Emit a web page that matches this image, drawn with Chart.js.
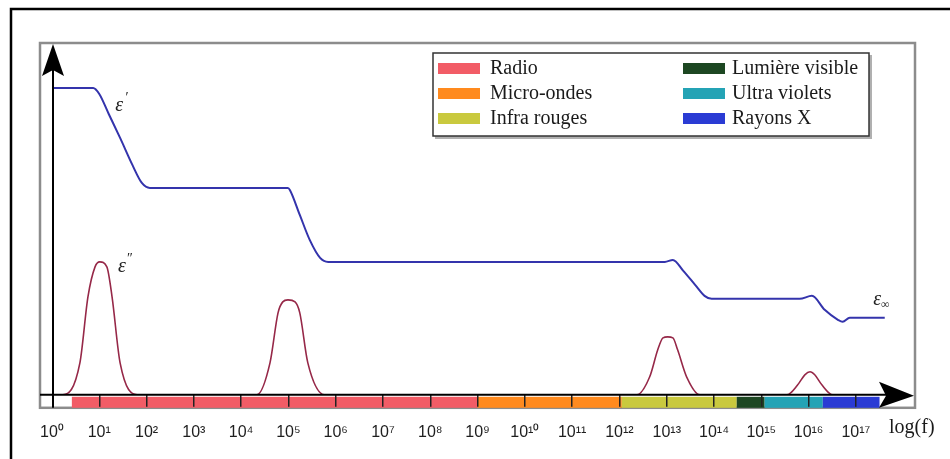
<!DOCTYPE html>
<html>
<head>
<meta charset="utf-8">
<script src="https://cdn.jsdelivr.net/npm/chart.js@4.4.1/dist/chart.umd.min.js"></script>
<style>
html, body { margin: 0; padding: 0; background: #fff; }
</style>
</head>
<body>
<canvas id="miGrafica" width="950" height="459"></canvas>
<script>
// x = log10(f), y en unites arbitraires
let epsPrimeX = [0, 0.87, 1.0, 1.2, 1.45, 1.7, 1.9, 2.07, 4.99, 5.03, 5.24, 5.45, 5.67, 5.84, 12.96, 13.13, 13.35, 13.6, 13.8, 13.95, 15.81, 16.07, 16.34, 16.62, 16.72, 16.87, 17.61]
let epsPrimeY = [30.7, 30.7, 30.1, 28.1, 25.6, 23.0, 21.2, 20.7, 20.7, 20.5, 18.0, 15.5, 13.7, 13.3, 13.3, 13.5, 12.4, 11.0, 9.9, 9.6, 9.6, 9.9, 8.5, 7.5, 7.3, 7.7, 7.7]

let epsSecondX = [0, 0.23, 0.59, 0.76, 0.91, 1.01, 1.16, 1.27, 1.44, 1.80, 4.33, 4.61, 4.78, 4.88, 4.99, 5.14, 5.24, 5.41, 5.77, 12.37, 12.64, 12.81, 12.92, 13.02, 13.13, 13.23, 13.42, 13.70, 15.54, 15.77, 15.92, 16.03, 16.13, 16.28, 16.51, 17.61]
let epsSecondY = [0, 0, 3.2, 9.8, 12.8, 13.3, 12.8, 9.8, 3.2, 0, 0, 3.2, 8.2, 9.3, 9.5, 9.3, 8.2, 3.2, 0, 0, 1.8, 4.5, 5.7, 5.8, 5.7, 4.5, 1.8, 0, 0, 1.0, 2.0, 2.3, 2.0, 1.0, 0, 0]

// domaines du spectre (en log10(f))
let bandNames = ["Radio", "Micro-ondes", "Infra rouges", "Lumière visible", "Ultra violets", "Rayons X"]
let bandStart = [0.42, 9.0, 12.05, 14.48, 15.07, 16.3]
let bandEnd = [9.0, 12.05, 14.48, 15.07, 16.3, 17.5]
let bandColors = ["#f25c66", "#ff8a1e", "#c9c93e", "#1d4722", "#24a3b5", "#2a3bd4"]

let tickLabels = ["10⁰", "10¹", "10²", "10³", "10⁴", "10⁵", "10⁶", "10⁷", "10⁸", "10⁹",
    "10¹⁰", "10¹¹", "10¹²", "10¹³", "10¹⁴", "10¹⁵", "10¹⁶", "10¹⁷"]

// etiquettes des courbes : [texte, indice, x, y]
let curveNames = [["ε", "′", 1.42, 28.9], ["ε", "″", 1.48, 12.8], ["ε", "∞", 17.45, 9.5]]

function pts(xs, ys) {
    return xs.map((v, i) => ({ x: v, y: ys[i] }))
}

const decor = {
    id: "decor",
    beforeDraw(chart) {
        const c = chart.ctx, sx = chart.scales.x, a = chart.chartArea
        c.save()
        c.fillStyle = "#fff"
        c.fillRect(0, 0, chart.width, chart.height)
        // cadre exterieur
        c.strokeStyle = "#000"
        c.lineWidth = 2.5
        c.beginPath()
        c.moveTo(11, chart.height)
        c.lineTo(11, 9)
        c.lineTo(chart.width, 9)
        c.stroke()
        // cadre gris
        c.strokeStyle = "#8c8c8c"
        c.lineWidth = 2.5
        c.strokeRect(a.left - 12, a.top - 2, a.right - a.left + 12, a.bottom - a.top + 15)
        // bande du spectre
        for (let i = 0; i < bandNames.length; i++) {
            let x0 = sx.getPixelForValue(bandStart[i])
            let x1 = sx.getPixelForValue(bandEnd[i])
            c.fillStyle = bandColors[i]
            c.fillRect(x0, a.bottom + 2, x1 - x0, 11)
        }
        c.restore()
    },
    afterDatasetsDraw(chart) {
        const c = chart.ctx, a = chart.chartArea
        c.save()
        c.strokeStyle = "#000"
        c.fillStyle = "#000"
        c.lineWidth = 2
        // axe y
        c.beginPath()
        c.moveTo(a.left + 1, a.bottom + 13)
        c.lineTo(a.left + 1, a.top + 20)
        c.stroke()
        c.beginPath()
        c.moveTo(a.left + 1, a.top - 1)
        c.lineTo(a.left - 10, a.top + 31)
        c.lineTo(a.left + 1, a.top + 25)
        c.lineTo(a.left + 12, a.top + 31)
        c.closePath()
        c.fill()
        // axe x
        c.beginPath()
        c.moveTo(a.left - 12, a.bottom)
        c.lineTo(a.right - 25, a.bottom)
        c.stroke()
        c.beginPath()
        c.moveTo(a.right - 1, a.bottom + 1)
        c.lineTo(a.right - 36, a.bottom - 13)
        c.lineTo(a.right - 29, a.bottom + 1)
        c.lineTo(a.right - 36, a.bottom + 13)
        c.closePath()
        c.fill()
        c.restore()
    },
    afterDraw(chart) {
        const c = chart.ctx, sx = chart.scales.x, sy = chart.scales.y
        c.save()
        // legende
        c.fillStyle = "#b0b0b0"
        c.fillRect(435, 55, 437, 84)
        c.fillStyle = "#fff"
        c.fillRect(433, 53, 436, 83)
        c.strokeStyle = "#333"
        c.lineWidth = 1.5
        c.strokeRect(433, 53, 436, 83)
        c.font = "20px 'Liberation Serif'"
        c.textBaseline = "middle"
        for (let i = 0; i < bandNames.length; i++) {
            let col = Math.floor(i / 3), row = i % 3
            let bx = col === 0 ? 438 : 683
            let tx = col === 0 ? 490 : 732
            let y = 68 + row * 25
            c.fillStyle = bandColors[i]
            c.fillRect(bx, y - 5, 42, 11)
            c.fillStyle = "#1a1a1a"
            c.fillText(bandNames[i], tx, y + 1)
        }
        // noms des courbes
        for (let n of curveNames) {
            let px = sx.getPixelForValue(n[2]), py = sy.getPixelForValue(n[3])
            c.fillStyle = "#222"
            c.font = "italic 20px 'Liberation Serif'"
            c.textAlign = "center"
            c.fillText(n[0], px, py)
            if (n[1] === "∞") {
                c.font = "12px 'Liberation Serif'"
                c.fillText(n[1], px + 8, py + 5)
            } else {
                c.font = "14px 'Liberation Serif'"
                c.fillText(n[1], px + 8, py - 8)
            }
        }
        // titre de l'axe
        c.fillStyle = "#1a1a1a"
        c.font = "20px 'Liberation Serif'"
        c.textAlign = "left"
        c.fillText("log(f)", 889, 428)
        c.restore()
    }
}

let miCanvas = document.getElementById("miGrafica").getContext("2d")

let chart = new Chart(miCanvas, {
    type: "line",
    data: {
        datasets: [
            {
                label: "ε'",
                data: pts(epsPrimeX, epsPrimeY),
                borderColor: "rgb(52,52,172)",
                borderWidth: 2,
                pointRadius: 0,
                cubicInterpolationMode: "monotone"
            },
            {
                label: "ε''",
                data: pts(epsSecondX, epsSecondY),
                borderColor: "rgb(150,40,72)",
                borderWidth: 1.6,
                pointRadius: 0,
                cubicInterpolationMode: "monotone"
            }
        ]
    },
    options: {
        responsive: false,
        animation: false,
        layout: { padding: { left: 52, right: 35, top: 45, bottom: 1 } },
        plugins: { legend: { display: false }, tooltip: { enabled: false } },
        scales: {
            x: {
                type: "linear",
                min: 0,
                max: 18.25,
                border: { display: false },
                grid: {
                    drawOnChartArea: false,
                    drawTicks: true,
                    tickLength: 12,
                    lineWidth: 1.5,
                    color: ctx => (ctx.tick && ctx.tick.value > 0 && ctx.tick.value <= 17) ? "#222" : "rgba(0,0,0,0)"
                },
                ticks: {
                    stepSize: 1,
                    autoSkip: false,
                    maxRotation: 0,
                    padding: 16,
                    color: "#1e1e1e",
                    font: { family: "'Liberation Sans'", size: 16 },
                    callback: v => tickLabels[v] || ""
                }
            },
            y: {
                display: false,
                min: 0,
                max: 35
            }
        }
    },
    plugins: [decor]
})
</script>
</body>
</html>
